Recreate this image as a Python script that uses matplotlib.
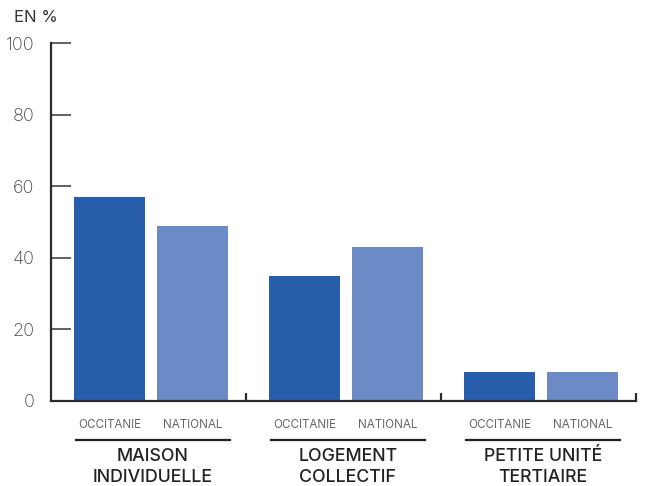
import numpy as np
import matplotlib
matplotlib.use("Agg")
import matplotlib.pyplot as plt

categories = ["MAISON\nINDIVIDUELLE", "LOGEMENT\nCOLLECTIF", "PETITE UNITÉ\nTERTIAIRE"]
series = ["OCCITANIE", "NATIONAL"]
occitanie = [57, 35, 8]
national = [49, 43, 8]
yticks = [0, 20, 40, 60, 80, 100]

plt.rcParams["font.family"] = ["Inter", "DejaVu Sans"]

fig = plt.figure(figsize=(6.49, 4.86), dpi=100)
ax = fig.add_axes([0.0786, 0.175, 0.9014, 0.7365])

x = np.arange(len(categories))
w = 0.363
off = 0.212
ax.bar(x - off, occitanie, w, color="#275DAA", zorder=2)
ax.bar(x + off, national, w, color="#6B8AC6", zorder=2)

ax.set_xlim(-0.512, 2.488)
ax.set_ylim(0, 100)

for s in ["top", "right"]:
    ax.spines[s].set_visible(False)
for s in ["left", "bottom"]:
    ax.spines[s].set_color("#2b2b2b")
    ax.spines[s].set_linewidth(1.6)

ax.set_yticks(yticks)
ax.set_yticklabels([str(v) for v in yticks], fontsize=13, color="#444444", fontweight="light")
ax.tick_params(axis="y", direction="in", length=14.5, width=1.3, color="#555555", pad=12)
ax.set_xticks(x + 0.488)
ax.set_xticklabels([])
ax.tick_params(axis="x", direction="in", length=6, width=1.6, color="#2b2b2b")

trans = ax.get_xaxis_transform()
for i in range(len(categories)):
    for xs, lab in zip([x[i] - off, x[i] + off], series):
        ax.text(xs, -0.068, lab, transform=trans, ha="center", va="center",
                fontsize=8.4, color="#666666")
    ax.plot([x[i] - off - w / 2 + 0.01, x[i] + off + w / 2 + 0.01], [-0.11, -0.11],
            transform=trans, color="#222222", lw=1.6, clip_on=False)
    ax.text(x[i] + 0.01, -0.131, categories[i], transform=trans, ha="center", va="top",
            fontsize=12.8, color="#222222", fontweight="medium", linespacing=1.3)

fig.text(14 / 649, 1 - 17 / 486, "EN %", ha="left", va="center", fontsize=12, color="#333333")

fig.savefig("out.png", dpi=100)
